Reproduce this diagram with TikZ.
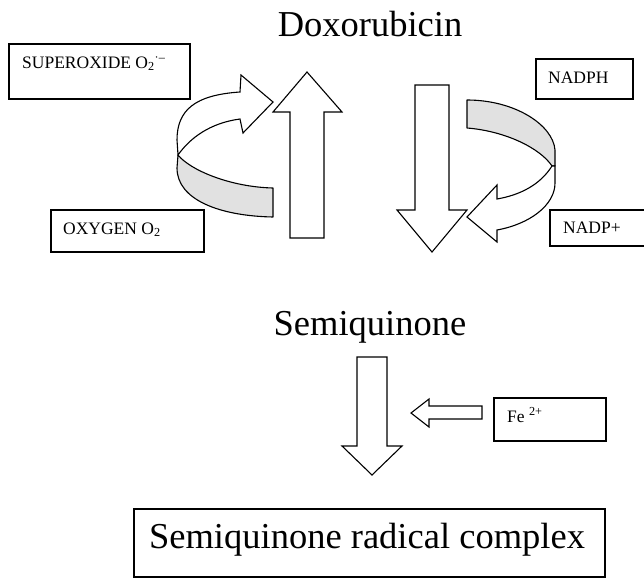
\documentclass[tikz,border=0pt]{standalone}
\usepackage{fontspec}
\setmainfont{Liberation Serif}
\definecolor{ribbongrey}{RGB}{225,225,225}
\tikzset{
  boxstyle/.style={draw=black, line width=1.1pt, fill=none, inner sep=0pt},
  blockarrow/.style={draw=black, line width=1.1pt, fill=white, line join=miter},
  ribbonback/.style={draw=black, line width=1.1pt, fill=ribbongrey, line join=round},
  ribbonfront/.style={draw=black, line width=1.1pt, fill=white, line join=miter},
  bigtext/.style={font=\fontsize{36.5}{40}\selectfont, inner sep=0pt, anchor=base},
  smalltext/.style={font=\fontsize{17.5}{20}\selectfont, inner sep=0pt, anchor=base west},
}
\begin{document}
\begin{tikzpicture}[x=1pt, y=-1pt]
\useasboundingbox (0,0) rectangle (644,578);

% main labels
\node[bigtext] (dox) at (370,37) {Doxorubicin};
\node[bigtext] (semi) at (370,335) {Semiquinone};

% boxes
\draw[boxstyle] (9,44) rectangle (190,99);
\node[smalltext] (supl) at (22,68) {SUPEROXIDE O\textsubscript{2}\textsuperscript{·–}};
\draw[boxstyle] (51,210) rectangle (204,252);
\node[smalltext] (oxyl) at (63,234) {OXYGEN O\textsubscript{2}};
\draw[boxstyle] (536,59) rectangle (633,99);
\node[smalltext] (nadphl) at (548,83) {NADPH};
\draw[boxstyle] (550,210) rectangle (652,246);
\node[smalltext] (nadpl) at (563,233) {NADP+};
\draw[boxstyle] (494,398) rectangle (606,441);
\node[smalltext] (fel) at (507,422) {Fe \textsuperscript{2+}};
\draw[boxstyle] (134,509) rectangle (605,577);
\node[bigtext] (complex) at (367,548) {Semiquinone radical complex};

% up arrow (to Doxorubicin)
\draw[blockarrow] (290,238) -- (290,112) -- (273,112) -- (307,72) -- (342,112) -- (324,112) -- (324,238) -- cycle;
% down arrow (to Semiquinone)
\draw[blockarrow] (415,85) -- (449,85) -- (449,210) -- (467,210) -- (432,252) -- (397,210) -- (415,210) -- cycle;
% down arrow (to complex)
\draw[blockarrow] (357,357) -- (387,357) -- (387,446) -- (402,446) -- (372,475) -- (342,446) -- (357,446) -- cycle;
% left arrow from Fe
\draw[blockarrow] (482,406) -- (429,406) -- (429,399) -- (411,413) -- (429,427) -- (429,419) -- (482,419) -- cycle;

% left curved arrow (oxygen -> superoxide)
\draw[ribbonfront] (178,155) .. controls (190,138) and (210,123) .. (240,119)
  -- (243,133) -- (273,102) -- (241,75) -- (240,92)
  .. controls (195,95) and (177,110) .. (177,140) -- cycle;
\draw[ribbonback] (178,155) .. controls (190,170) and (230,187) .. (273,188)
  -- (273,217) .. controls (220,216) and (177,200) .. (177,168) -- cycle;

% right curved arrow (NADPH -> NADP+)
\draw[ribbonback] (467,100) .. controls (515,100) and (553,125) .. (555,150)
  -- (555,166) -- (552,166) .. controls (540,148) and (505,131) .. (467,128) -- cycle;
\draw[ribbonfront] (552,166) .. controls (540,185) and (520,195) .. (497,199)
  -- (497,185) -- (467,217) -- (497,242) -- (497,230)
  .. controls (530,224) and (555,205) .. (555,183) -- (555,166) -- cycle;
\end{tikzpicture}
\end{document}
